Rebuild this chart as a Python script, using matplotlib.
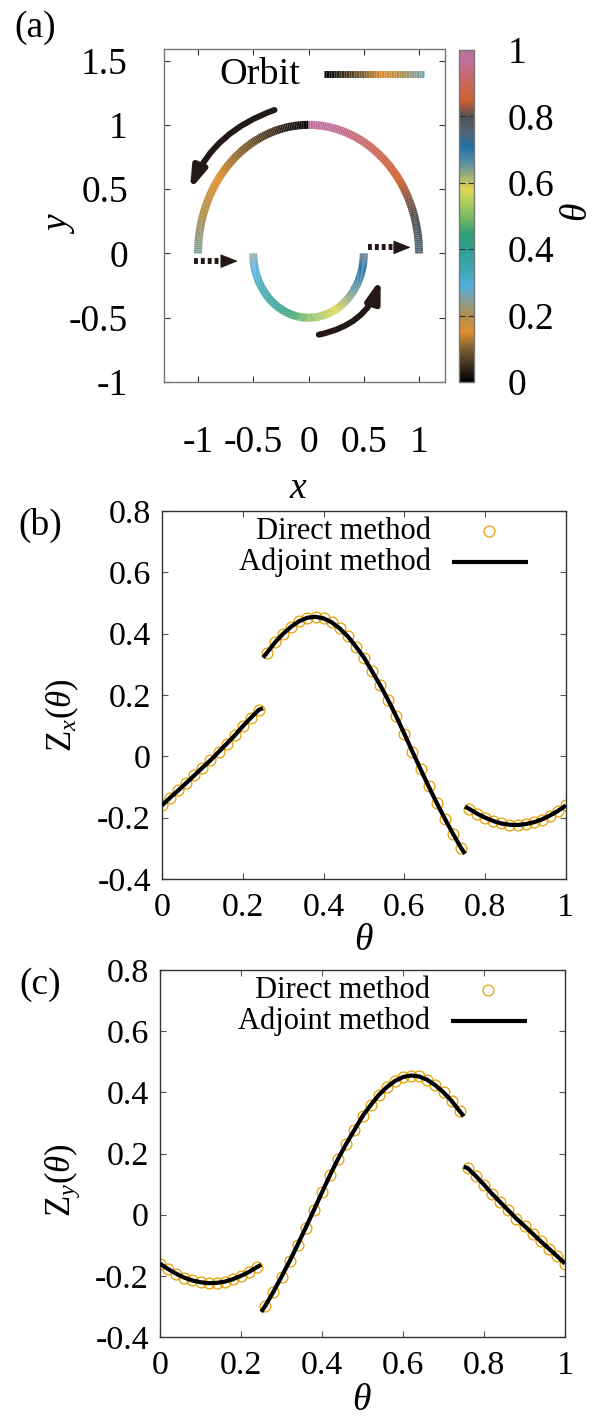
import numpy as np
import matplotlib
matplotlib.use("Agg")
import matplotlib.pyplot as plt
from matplotlib.colors import LinearSegmentedColormap, Normalize
from matplotlib.collections import LineCollection
from matplotlib.cm import ScalarMappable

plt.rcParams["font.family"] = ["Liberation Serif", "DejaVu Serif"]
plt.rcParams["mathtext.fontset"] = "custom"
plt.rcParams["mathtext.rm"] = "Liberation Serif"
plt.rcParams["mathtext.it"] = "Liberation Serif:italic"
plt.rcParams["axes.unicode_minus"] = False

# ---------------- data ----------------
# phase palette (theta -> colour)
palette_positions = [0.0, 0.05, 0.10, 0.15, 0.20, 0.25, 0.29, 0.33, 0.39, 0.45, 0.49,
                     0.53, 0.58, 0.63, 0.66, 0.71, 0.75, 0.80, 0.85, 0.90, 0.97, 1.0]
palette_colors = ["#000000", "#403020", "#806030", "#e09030", "#b09050", "#80a0a0",
                  "#50b0e0", "#40a8b8", "#30a098", "#30a070", "#70b860", "#a0c860",
                  "#e0d850", "#90a880", "#5a90a0", "#2070a8", "#506878", "#505050",
                  "#d06030", "#c86858", "#c0709a", "#c0709a"]

# limit-cycle orbit: outer arc, inner arc, jump phases
orbit_outer_radius = 1.0
orbit_inner_radius = 0.5
orbit_phase_breaks = [0.0, 0.25, 0.75, 1.0]

# phase samples of the direct method
theta_seg1 = [0.00, 0.02, 0.04, 0.06, 0.08, 0.10, 0.12, 0.14, 0.16, 0.18, 0.20, 0.22, 0.24]
theta_seg2 = [0.26, 0.28, 0.30, 0.32, 0.34, 0.36, 0.38, 0.40, 0.42, 0.44, 0.46, 0.48, 0.50,
              0.52, 0.54, 0.56, 0.58, 0.60, 0.62, 0.64, 0.66, 0.68, 0.70, 0.72, 0.74]
theta_seg3 = [0.76, 0.78, 0.80, 0.82, 0.84, 0.86, 0.88, 0.90, 0.92, 0.94, 0.96, 0.98, 1.00]

zx_direct_seg1 = [-0.160, -0.135, -0.111, -0.087, -0.062, -0.037, -0.013, 0.014, 0.041,
                  0.068, 0.098, 0.126, 0.152]
zx_direct_seg2 = [0.338, 0.372, 0.400, 0.423, 0.441, 0.452, 0.455, 0.450, 0.437, 0.417,
                  0.391, 0.358, 0.322, 0.277, 0.232, 0.183, 0.130, 0.073, 0.015, -0.042,
                  -0.098, -0.152, -0.203, -0.252, -0.298]
zx_direct_seg3 = [-0.171, -0.187, -0.200, -0.211, -0.219, -0.223, -0.224, -0.221, -0.215,
                  -0.206, -0.193, -0.178, -0.160]

zy_direct_seg1 = [-0.160, -0.178, -0.193, -0.206, -0.215, -0.221, -0.224, -0.223, -0.219,
                  -0.211, -0.200, -0.187, -0.171]
zy_direct_seg2 = [-0.298, -0.252, -0.203, -0.152, -0.098, -0.042, 0.015, 0.073, 0.130,
                  0.183, 0.232, 0.277, 0.322, 0.358, 0.391, 0.417, 0.437, 0.450, 0.455,
                  0.452, 0.441, 0.423, 0.400, 0.372, 0.338]
zy_direct_seg3 = [0.152, 0.126, 0.098, 0.068, 0.041, 0.014, -0.013, -0.037, -0.062,
                  -0.087, -0.111, -0.135, -0.160]

# adjoint solution (continuous pieces, including the jump phases)
theta_adj_seg1 = theta_seg1 + [0.25]
theta_adj_seg2 = [0.25] + theta_seg2 + [0.75]
theta_adj_seg3 = [0.75] + theta_seg3
zx_adj_seg1 = zx_direct_seg1 + [0.157]
zx_adj_seg2 = [0.322] + zx_direct_seg2 + [-0.318]
zx_adj_seg3 = [-0.164] + zx_direct_seg3
zy_adj_seg1 = zy_direct_seg1 + [-0.164]
zy_adj_seg2 = [-0.318] + zy_direct_seg2 + [0.322]
zy_adj_seg3 = [0.157] + zy_direct_seg3

# ---------------- styling ----------------
W, H = 593, 1416
DIRECT_COLOR = "#e69f00"
ARROW_COLOR = "#231815"
TICK_FS = 27
TICK_FS_BC = 24.5
LEGEND_FS = 22
MARKER_SIZE = 7.8


def fig_xy(px, py):
    return px / W, 1 - py / H


fig = plt.figure(figsize=(W / 100, H / 100), dpi=100)
cmap = LinearSegmentedColormap.from_list("phase", list(zip(palette_positions, palette_colors)))
norm = Normalize(0, 1)

# ---------------- (a) orbit ----------------
ax_a = fig.add_axes([164 / W, 1 - 382 / H, 281 / W, 333 / H])
ax_a.set_xlim(-1.308, 1.235)
ax_a.set_ylim(-1.0, 1.59)

radii = [orbit_outer_radius, orbit_inner_radius, orbit_outer_radius]
for (t0, t1), r in zip(zip(orbit_phase_breaks[:-1], orbit_phase_breaks[1:]), radii):
    n = int(round((t1 - t0) * 400))
    th = np.linspace(t0, t1, n + 1)
    ang = np.pi / 2 + 2 * np.pi * th
    pts = np.column_stack([r * np.cos(ang), r * np.sin(ang)])
    segs = np.stack([pts[:-1], pts[1:]], axis=1)
    lc = LineCollection(segs, cmap=cmap, norm=norm, linewidths=5.8, capstyle="butt")
    lc.set_array(0.5 * (th[:-1] + th[1:]))
    ax_a.add_collection(lc)

# direction arrows
curve_style = "-|>,head_length=0.62,head_width=0.2"
ax_a.annotate("", xy=(-1.074, 0.494), xytext=(-0.308, 1.116),
              arrowprops=dict(arrowstyle=curve_style, connectionstyle="arc3,rad=0.22",
                              color=ARROW_COLOR, lw=4.3, mutation_scale=20,
                              shrinkA=0, shrinkB=0))
ax_a.annotate("", xy=(0.652, -0.198), xytext=(0.093, -0.632),
              arrowprops=dict(arrowstyle=curve_style, connectionstyle="arc3,rad=0.29",
                              color=ARROW_COLOR, lw=4.3, mutation_scale=20,
                              shrinkA=0, shrinkB=0))

# jump arrows (dotted)
for x0, xb, xt, y in [(-1.04, -0.78, -0.64, -0.06), (0.535, 0.80, 0.925, 0.047)]:
    ax_a.plot([x0, xb], [y, y], color=ARROW_COLOR, lw=4.3,
              linestyle=(0, (0.65, 0.5)), solid_capstyle="butt", dash_capstyle="butt")
    ax_a.annotate("", xy=(xt, y), xytext=(xb - 0.01, y),
                  arrowprops=dict(arrowstyle="-|>,head_length=0.55,head_width=0.22",
                                  color=ARROW_COLOR, lw=0.8, mutation_scale=20,
                                  shrinkA=0, shrinkB=0))

# key
ax_a.text(0.342, 0.922, "Orbit", transform=ax_a.transAxes, fontsize=27.5,
          ha="center", va="center")
kx = np.linspace(0.569, 0.925, 41)
kpts = np.column_stack([kx, np.full_like(kx, 0.925)])
ksegs = np.stack([kpts[:-1], kpts[1:]], axis=1)
klc = LineCollection(ksegs, cmap=cmap, norm=norm, linewidths=5.0, capstyle="butt",
                     transform=ax_a.transAxes)
klc.set_array(np.linspace(0.0, 0.26, 40))
ax_a.add_collection(klc)

ax_a.set_xticks([-1, -0.5, 0, 0.5, 1])
ax_a.set_xticklabels(["-1", "-0.5", "0", "0.5", "1"])
ax_a.set_yticks([-1, -0.5, 0, 0.5, 1, 1.5])
ax_a.set_yticklabels(["-1", "-0.5", "0", "0.5", "1", "1.5"])
ax_a.tick_params(direction="in", top=True, right=True, length=4.5, width=0.8,
                 color="#333333", labelsize=TICK_FS)
ax_a.tick_params(axis="x", pad=31)
ax_a.tick_params(axis="y", pad=26)
for s in ax_a.spines.values():
    s.set_color("#777777")
    s.set_linewidth(1.0)

# colourbar
cax = fig.add_axes([459 / W, 1 - 382 / H, 15 / W, 332 / H])
cb = fig.colorbar(ScalarMappable(norm=norm, cmap=cmap), cax=cax,
                  ticks=[0, 0.2, 0.4, 0.6, 0.8, 1])
cb.set_ticklabels(["0", "0.2", "0.4", "0.6", "0.8", "1"])
cb.outline.set_edgecolor("#777777")
cb.outline.set_linewidth(1.0)
cax.tick_params(direction="in", left=True, right=True, length=4, width=0.8,
                color="#333333", labelsize=TICK_FS, pad=24)

fig.text(*fig_xy(578, 212), r"$\theta$", rotation=90, fontsize=27, ha="center", va="center")
fig.text(*fig_xy(60, 223), r"$y$", rotation=90, fontsize=27, ha="center", va="center")
fig.text(*fig_xy(298, 489), r"$x$", fontsize=27, ha="center", va="center")
fig.text(*fig_xy(35, 28), "(a)", fontsize=27, ha="center", va="center")


# ---------------- (b), (c) phase sensitivity ----------------
def sensitivity_panel(rect, direct_segs, adj_segs, ylabel, ylabel_xy, xlabel_xy, tag, tag_xy):
    ax = fig.add_axes(rect)
    for th, z in direct_segs:
        ax.plot(th, z, linestyle="none", marker="o", ms=MARKER_SIZE, mfc="none",
                mec=DIRECT_COLOR, mew=0.9, zorder=2)
    for th, z in adj_segs:
        ax.plot(th, z, color="black", lw=3.0, solid_capstyle="butt", zorder=3)
    ax.set_xlim(0, 1)
    ax.set_ylim(-0.4, 0.8)
    ax.set_xticks([0, 0.2, 0.4, 0.6, 0.8, 1])
    ax.set_xticklabels(["0", "0.2", "0.4", "0.6", "0.8", "1"])
    ax.set_yticks([-0.4, -0.2, 0, 0.2, 0.4, 0.6, 0.8])
    ax.set_yticklabels(["-0.4", "-0.2", "0", "0.2", "0.4", "0.6", "0.8"])
    ax.tick_params(direction="in", top=True, right=True, length=4, width=0.8,
                   color="#555555", labelsize=TICK_FS_BC)
    ax.tick_params(axis="x", pad=10)
    ax.tick_params(axis="y", pad=8)
    for s in ax.spines.values():
        s.set_color("#333333")
        s.set_linewidth(1.0)
    # key
    ax.text(0.667, 0.943, "Direct method", transform=ax.transAxes, fontsize=LEGEND_FS,
            ha="right", va="center")
    ax.text(0.667, 0.861, "Adjoint method", transform=ax.transAxes, fontsize=LEGEND_FS,
            ha="right", va="center")
    ax.plot([0.81], [0.946], transform=ax.transAxes, linestyle="none", marker="o",
            ms=MARKER_SIZE, mfc="none", mec=DIRECT_COLOR, mew=0.9, clip_on=False)
    ax.plot([0.718, 0.906], [0.862, 0.862], transform=ax.transAxes, color="black", lw=3.0,
            solid_capstyle="butt", clip_on=False)
    fig.text(*fig_xy(*ylabel_xy), ylabel, rotation=90, fontsize=25, ha="center", va="center")
    fig.text(*fig_xy(*xlabel_xy), r"$\theta$", fontsize=27, ha="center", va="center")
    fig.text(*fig_xy(*tag_xy), tag, fontsize=27, ha="center", va="center")
    return ax


sensitivity_panel([162 / W, 1 - 879 / H, 404 / W, 368 / H],
                  [(theta_seg1, zx_direct_seg1), (theta_seg2, zx_direct_seg2),
                   (theta_seg3, zx_direct_seg3)],
                  [(theta_adj_seg1, zx_adj_seg1), (theta_adj_seg2, zx_adj_seg2),
                   (theta_adj_seg3, zx_adj_seg3)],
                  r"Z$_x$($\theta$)", (62, 715), (364, 941), "(b)", (40, 525))

sensitivity_panel([160 / W, 1 - 1337 / H, 405 / W, 367 / H],
                  [(theta_seg1, zy_direct_seg1), (theta_seg2, zy_direct_seg2),
                   (theta_seg3, zy_direct_seg3)],
                  [(theta_adj_seg1, zy_adj_seg1), (theta_adj_seg2, zy_adj_seg2),
                   (theta_adj_seg3, zy_adj_seg3)],
                  r"Z$_y$($\theta$)", (62, 1180), (362, 1401), "(c)", (40, 985))

fig.savefig("out.png", dpi=100)
